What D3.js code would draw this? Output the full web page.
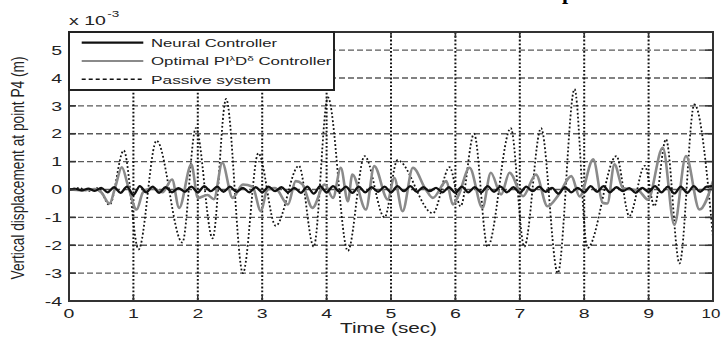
<!DOCTYPE html>
<html>
<head>
<meta charset="utf-8">
<script src="https://cdn.jsdelivr.net/npm/d3@7"></script>
<style>
  html, body { margin: 0; padding: 0; background: #fff; }
  svg { display: block; }
  text { font-family: "Liberation Sans", Arial, sans-serif; fill: #222; }
</style>
</head>
<body>
<svg id="chart" width="722" height="340"></svg>
<script>
// ---------------- data ----------------
const xTicks = [0, 1, 2, 3, 4, 5, 6, 7, 8, 9, 10];
const yTicks = [-4, -3, -2, -1, 0, 1, 2, 3, 4, 5];
const seriesNames = ["Neural Controller", "Optimal PI", "Passive system"];

// Neural controller, sampled every 0.1 s from 0 to 10 s (x 10^-3 m)
const neuralTimes = d3.range(0, 101).map(i => i / 10);
const neuralValues = [
  0, 0.02, -0.03, 0.03, -0.05,
  0.06, -0.1, 0.08, -0.12, 0.1,
  -0.2, 0.12, -0.1, 0.1, -0.12,
  0.08, -0.1, 0.05, -0.08, 0.1,
  -0.1, 0.12, -0.06, 0.1, -0.08,
  0.1, -0.08, 0.06, -0.1, 0.08,
  -0.1, 0.1, -0.06, 0.08, -0.1,
  0.06, -0.12, 0.1, -0.15, 0.12,
  -0.1, 0.12, -0.08, 0.1, -0.12,
  0.1, -0.1, 0.08, -0.08, 0.1,
  -0.1, 0.12, -0.06, 0.12, -0.08,
  0.08, -0.06, 0.06, -0.1, 0.08,
  -0.12, 0.1, -0.1, 0.08, -0.1,
  0.12, -0.08, 0.1, -0.1, 0.08,
  -0.12, 0.1, -0.06, 0.1, -0.08,
  0.06, -0.15, 0.08, -0.1, 0.06,
  -0.1, 0.12, -0.08, 0.12, -0.1,
  0.08, -0.06, 0.05, -0.12, 0.06,
  -0.08, 0.12, -0.1, 0.1, -0.14,
  0.1, -0.12, 0.12, -0.08, 0.1,
  0.12
];

// Optimal PI^λ D^δ controller
const pidTimes = [0, 0.2, 0.4, 0.5, 0.63, 0.72, 0.82, 0.92, 1.05, 1.15, 1.3, 1.45, 1.6, 1.71, 1.9,
  2.0, 2.15, 2.25, 2.38, 2.54, 2.7, 2.85, 2.98, 3.08, 3.2, 3.4, 3.52, 3.62, 3.78, 3.97,
  4.1, 4.22, 4.33, 4.4, 4.61, 4.74, 4.95, 5.05, 5.18, 5.34, 5.54, 5.65, 5.86, 5.96,
  6.05, 6.22, 6.42, 6.55, 6.71, 6.84, 7.05, 7.25, 7.43, 7.6, 7.8, 7.93,
  8.14, 8.29, 8.36, 8.47, 8.6, 8.75, 8.85, 8.99, 9.22, 9.4, 9.58, 9.79, 10];
const pidValues = [0, -0.03, 0.02, -0.1, -0.5, 0.1, 0.8, 0.1, -0.72, -0.1, 0.05, -0.1, 0.36, -0.66, 0.9,
  -0.3, -0.2, -0.35, 0.96, -0.3, 0.18, 0.1, -0.78, 0.0, 0.05, -0.54, 0.3, 0.2, -0.66, 0.18,
  -0.3, 0.78, -0.42, 0.54, -0.72, 0.84, -0.36, 0.42, -0.78, 0.78, 0.0, -0.3, 0.3, -0.54,
  -0.2, 0.78, -0.66, 0.6, -0.18, 0.6, -0.24, 0.54, -0.6, -0.2, 0.48, -0.25,
  1.08, -0.48, -0.5, 0.9, 0.05, 0.0, -0.05, -0.36, 1.5, -1.27, 1.2, -0.72, 0.3];

// Passive system
const passiveTimes = [0, 0.15, 0.3, 0.45, 0.63, 0.85, 1.08, 1.36, 1.76, 1.97, 2.23, 2.44, 2.7, 2.94,
  3.21, 3.57, 3.8, 4.02, 4.33, 4.59, 4.9, 5.1, 5.65, 5.91, 6.08, 6.29, 6.5, 6.86, 7.07,
  7.33, 7.59, 7.85, 8.05, 8.5, 8.7, 8.94, 9.09, 9.27, 9.48, 9.71, 10];
const passiveValues = [0, 0.05, -0.05, 0.05, -0.55, 1.4, -2.15, 1.75, -1.9, 2.2, -1.75, 3.25, -3.0, 1.3,
  -1.3, 0.85, -2.05, 3.3, -2.2, 1.2, -1.0, 1.05, -0.85, 0.8, -0.6, 2.0, -2.05, 2.2, -2.05,
  2.2, -3.0, 3.6, -2.1, 1.2, -0.95, 0.85, -0.6, 1.8, -2.65, 3.05, -1.7];

// ---------------- drawing ----------------
const svg = d3.select("#chart");
const pLeft = 69, pRight = 713, pTop = 32, pBottom = 301;
const x = d3.scaleLinear().domain([0, 10]).range([pLeft, pRight]);
const y = d3.scaleLinear().domain([-4, 5.65]).range([pBottom, pTop]);
const SX = 1.5; // horizontal stretch of the original figure's text

svg.append("defs").append("clipPath").attr("id", "clip")
  .append("rect").attr("x", pLeft).attr("y", pTop).attr("width", pRight - pLeft).attr("height", pBottom - pTop);

// grid
svg.append("g").selectAll("line").data(yTicks.filter(v => v > -4)).join("line")
  .attr("x1", pLeft).attr("x2", pRight)
  .attr("y1", d => y(d)).attr("y2", d => y(d))
  .attr("stroke", "#5a5a5a").attr("stroke-width", 1.4).attr("stroke-dasharray", "6,3");
svg.append("g").selectAll("line").data(xTicks.filter(v => v > 0 && v < 10)).join("line")
  .attr("x1", d => x(d)).attr("x2", d => x(d))
  .attr("y1", pTop).attr("y2", pBottom)
  .attr("stroke", "#111").attr("stroke-width", 2).attr("stroke-dasharray", "1.8,2");

// lines
const plot = svg.append("g").attr("clip-path", "url(#clip)");
const lineGen = d3.line().x(d => x(d[0])).y(d => y(d[1])).curve(d3.curveMonotoneX);

plot.append("path").datum(d3.zip(passiveTimes, passiveValues))
  .attr("d", lineGen).attr("fill", "none")
  .attr("stroke", "#111").attr("stroke-width", 1.8).attr("stroke-dasharray", "1.8,2.2");
plot.append("path").datum(d3.zip(pidTimes, pidValues))
  .attr("d", lineGen).attr("fill", "none")
  .attr("stroke", "#8a8a8a").attr("stroke-width", 2.6).attr("stroke-linejoin", "round");
plot.append("path").datum(d3.zip(neuralTimes, neuralValues))
  .attr("d", lineGen).attr("fill", "none")
  .attr("stroke", "#111").attr("stroke-width", 2.3).attr("stroke-linejoin", "round");

// axes box and ticks
const axisG = svg.append("g").attr("stroke", "#333").attr("stroke-width", 1.6);
axisG.selectAll(".yl").data(yTicks).join("line").attr("class", "yl")
  .attr("x1", pLeft).attr("x2", pLeft + 7).attr("y1", d => y(d)).attr("y2", d => y(d));
axisG.selectAll(".yr").data(yTicks).join("line").attr("class", "yr")
  .attr("x1", pRight - 8).attr("x2", pRight).attr("y1", d => y(d)).attr("y2", d => y(d));
axisG.selectAll(".xb").data(xTicks).join("line").attr("class", "xb")
  .attr("x1", d => x(d)).attr("x2", d => x(d)).attr("y1", pBottom).attr("y2", pBottom - 6);
axisG.selectAll(".xt").data(xTicks).join("line").attr("class", "xt")
  .attr("x1", d => x(d)).attr("x2", d => x(d)).attr("y1", pTop).attr("y2", pTop + 6);
svg.append("rect").attr("x", pLeft).attr("y", pTop).attr("width", pRight - pLeft).attr("height", pBottom - pTop)
  .attr("fill", "none").attr("stroke", "#333").attr("stroke-width", 2);

// tick labels
svg.append("g").selectAll("g").data(yTicks).join("g")
  .attr("transform", d => `translate(62,${y(d) + 4.7}) scale(${SX},1)`)
  .append("text").attr("text-anchor", "middle").attr("text-anchor", "end").attr("font-size", 13).text(d => d);
svg.append("g").selectAll("g").data(xTicks).join("g")
  .attr("transform", d => d === 10
      ? `translate(711,317.5) scale(1.3,1)`
      : `translate(${x(d)},317.5) scale(${SX},1)`)
  .append("text").attr("text-anchor", "middle").attr("font-size", 13).text(d => d);

// exponent label
const expG = svg.append("g").attr("transform", `translate(69,25) scale(${SX},1)`);
const expT = expG.append("text").attr("font-size", 13);
expT.append("tspan").text("x 10");
expT.append("tspan").attr("font-size", 9).attr("dy", -8).attr("dx", 1).text("-3");

// axis titles
svg.append("text").attr("x", 388.5).attr("y", 333).attr("text-anchor", "middle")
  .attr("font-size", 14).attr("textLength", 97).attr("lengthAdjust", "spacingAndGlyphs")
  .text("Time (sec)");
svg.append("g").attr("transform", `translate(24,168) scale(1.4,1) rotate(-90)`)
  .append("text").attr("text-anchor", "middle").attr("font-size", 13)
  .attr("textLength", 223).attr("lengthAdjust", "spacingAndGlyphs")
  .text("Vertical displacement at point P4 (m)");

// cut-off title fragment (only its descender is visible in the original)
svg.append("text").attr("x", 568).attr("y", -1).attr("text-anchor", "middle")
  .attr("font-weight", "bold").attr("font-size", 22)
  .style("font-family", "'Liberation Serif', serif").style("fill", "#000").text("p");

// legend
const lg = svg.append("g");
lg.append("rect").attr("x", pLeft).attr("y", pTop).attr("width", 265).attr("height", 58)
  .attr("fill", "#fff").attr("stroke", "#222").attr("stroke-width", 2);
const legRows = [
  { y: 42.7, stroke: "#111", width: 2.2, dash: null, base: 46.7 },
  { y: 61, stroke: "#8a8a8a", width: 2.2, dash: null, base: 65.2 },
  { y: 79.3, stroke: "#111", width: 1.4, dash: "4,3", base: 83.5 }
];
lg.selectAll("line").data(legRows).join("line")
  .attr("x1", 81.7).attr("x2", 143.3).attr("y1", d => d.y).attr("y2", d => d.y)
  .attr("stroke", d => d.stroke).attr("stroke-width", d => d.width)
  .attr("stroke-dasharray", d => d.dash);
lg.append("text").attr("x", 151).attr("y", legRows[0].base).attr("font-size", 10.8)
  .attr("textLength", 126).attr("lengthAdjust", "spacingAndGlyphs").text(seriesNames[0]);
const optG = lg.append("g").attr("transform", `translate(151,${legRows[1].base}) scale(1.56,1)`);
const optT = optG.append("text").attr("font-size", 10.8);
optT.append("tspan").text(seriesNames[1]);
optT.append("tspan").attr("font-size", 7).attr("dy", -4.5).text("λ");
optT.append("tspan").attr("dy", 4.5).text("D");
optT.append("tspan").attr("font-size", 7.5).attr("dy", -4.5).text("δ");
optT.append("tspan").attr("dy", 4.5).text(" Controller");
lg.append("text").attr("x", 151).attr("y", legRows[2].base).attr("font-size", 10.8)
  .attr("textLength", 120).attr("lengthAdjust", "spacingAndGlyphs").text(seriesNames[2]);
</script>
</body>
</html>
